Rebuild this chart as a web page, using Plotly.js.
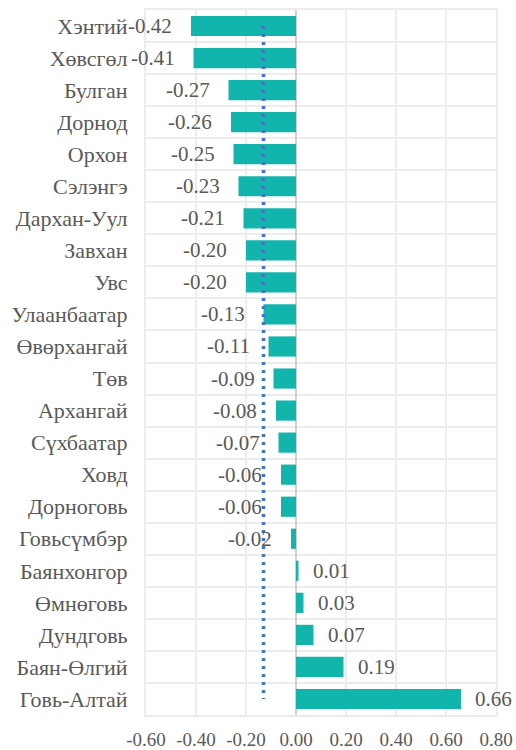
<!DOCTYPE html>
<html>
<head>
<meta charset="utf-8">
<script src="https://cdn.plot.ly/plotly-3.0.1.min.js"></script>
<style>html,body{margin:0;padding:0;background:#fff;}#chart{width:516px;height:750px;}</style>
</head>
<body>
<div id="chart"></div>
<script>
const regions = ["Хэнтий","Хөвсгөл","Булган","Дорнод","Орхон","Сэлэнгэ","Дархан-Уул","Завхан","Увс","Улаанбаатар","Өвөрхангай","Төв","Архангай","Сүхбаатар","Ховд","Дорноговь","Говьсүмбэр","Баянхонгор","Өмнөговь","Дундговь","Баян-Өлгий","Говь-Алтай"];
const values = [-0.42,-0.41,-0.27,-0.26,-0.25,-0.23,-0.21,-0.20,-0.20,-0.13,-0.11,-0.09,-0.08,-0.07,-0.06,-0.06,-0.02,0.01,0.03,0.07,0.19,0.66];
const averageValue = -0.13;
const xTickVals = [-0.6,-0.4,-0.2,0,0.2,0.4,0.6,0.8];
const xTickText = ["-0.60","-0.40","-0.20","0.00","0.20","0.40","0.60","0.80"];

const textColor = "#595959";
const fontFam = "Liberation Serif, Times New Roman, serif";

const bars = {
  type: "bar", orientation: "h", x: values, y: regions,
  marker: {color: "#12b5ab"}, hoverinfo: "skip"
};
const avgLine = {
  type: "scatter", mode: "lines", x: regions.map(() => averageValue), y: regions,
  line: {color: "#4472c4", dash: "3px,5px", width: 3.5}, hoverinfo: "skip"
};

const annotations = values.map((v, i) => ({
  x: v, y: regions[i], xref: "x", yref: "y",
  text: v.toFixed(2), showarrow: false,
  xanchor: v < 0 ? "right" : "left",
  xshift: v < 0 ? -17 : 12,
  font: {family: fontFam, size: 21, color: textColor}
}));

const layout = {
  width: 516, height: 750,
  margin: {l: 146, r: 20, t: 10, b: 35},
  paper_bgcolor: "#fff", plot_bgcolor: "#fff",
  showlegend: false,
  bargap: 0.37,
  font: {family: fontFam, size: 20, color: textColor},
  xaxis: {
    range: [-0.6, 0.8], tickvals: xTickVals, ticktext: xTickText, automargin: false,
    showgrid: true, gridcolor: "#ececec", gridwidth: 2,
    zeroline: true, zerolinecolor: "#d0d0d0", zerolinewidth: 2,
    showline: true, linecolor: "#ececec", linewidth: 2, mirror: true,
    ticks: "", ticklabelstandoff: 6,
    tickfont: {family: fontFam, size: 19, color: textColor}
  },
  yaxis: {
    type: "category", range: [regions.length - 0.5, -0.5], automargin: false,
    tickson: "boundaries", showgrid: true, gridcolor: "#ececec", gridwidth: 2,
    showline: true, linecolor: "#ececec", linewidth: 2, mirror: true,
    ticks: "", ticklabelstandoff: 12,
    tickfont: {family: fontFam, size: 22, color: textColor}
  },
  annotations: annotations
};

Plotly.newPlot("chart", [bars, avgLine], layout, {displayModeBar: false, staticPlot: true});
</script>
</body>
</html>
